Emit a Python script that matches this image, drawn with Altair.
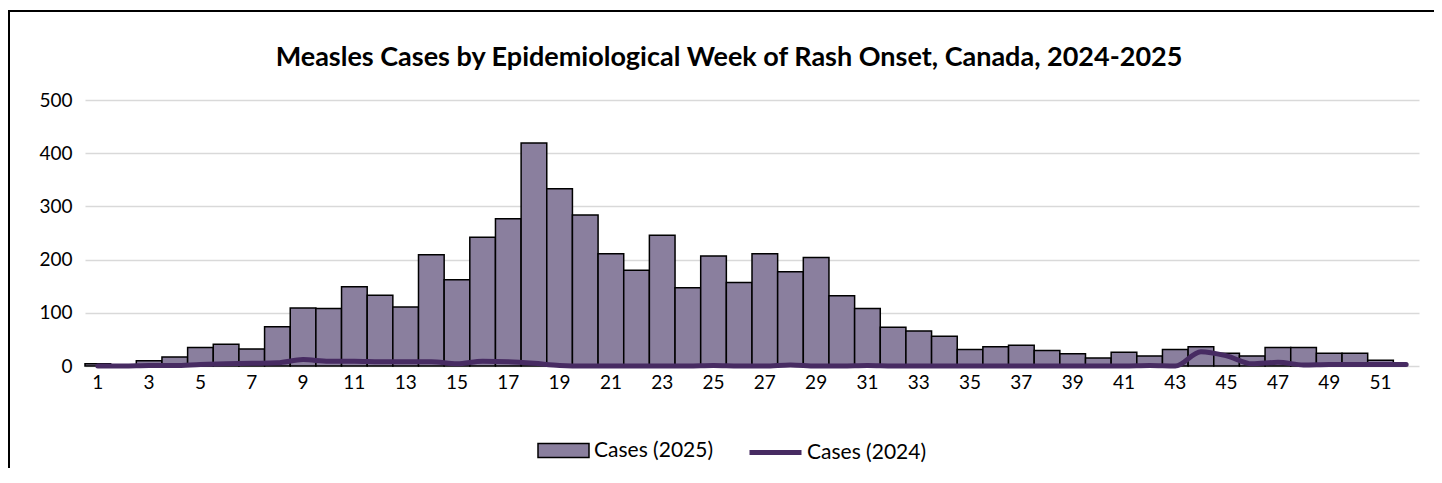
import altair as alt
import pandas as pd

# ---- data ----
weeks = list(range(1, 53))
cases_2025 = [4, 2, 10, 17, 35, 41, 32, 74, 109, 108, 149, 133, 111, 209, 162, 242,
              277, 419, 333, 284, 211, 180, 246, 147, 207, 157, 211, 177, 204, 132,
              108, 73, 66, 56, 31, 36, 39, 29, 23, 15, 26, 19, 31, 36, 24, 19, 35,
              35, 24, 24, 11, None]
cases_2024 = [0, 0, 1, 1, 3, 4, 5, 6, 12, 9, 9, 8, 8, 8, 4, 9, 8, 5, 1, 0, 0, 0,
              0, 0, 1, 0, 0, 2, 0, 0, 1, 0, 0, 0, 0, 0, 0, 0, 0, 0, 0, 1, 0, 27,
              19, 4, 7, 2, 3, 3, 3, 3]
tick_weeks = list(range(1, 52, 2))
y_ticks = [0, 100, 200, 300, 400, 500]
title_text = "Measles Cases by Epidemiological Week of Rash Onset, Canada, 2024-2025"
series_2025 = "Cases (2025)"
series_2024 = "Cases (2024)"

bars_df = pd.DataFrame({"week": weeks, "cases": cases_2025, "series": series_2025})
line_df = pd.DataFrame({"week": weeks, "cases": cases_2024, "series": series_2024})

FONT = "Lato"
BAR_COLOR = "#8a7f9e"
LINE_COLOR = "#472b62"

x_enc = alt.X(
    "week:O",
    scale=alt.Scale(domain=weeks, paddingInner=0, paddingOuter=0),
    axis=alt.Axis(values=tick_weeks, title=None, labelAngle=0, ticks=False,
                  domain=False, grid=False, labelFont=FONT, labelFontSize=19,
                  labelColor="black", labelPadding=7),
)
y_enc = alt.Y(
    "cases:Q",
    scale=alt.Scale(domain=[0, 500]),
    axis=alt.Axis(values=y_ticks, title=None, ticks=False, domain=False,
                  gridColor="#d9d9d9", gridWidth=1.5, labelFont=FONT,
                  labelFontSize=19, labelColor="black", labelPadding=13),
)

# outer chart frame: top and left edges (right/bottom fall outside the window)
frame_df = pd.DataFrame({"k": [0]})
frame_top = alt.Chart(frame_df).mark_rule(color="black", strokeWidth=2).encode(
    x=alt.value(-76), x2=alt.value(1500), y=alt.value(-89)
)
frame_left = alt.Chart(frame_df).mark_rule(color="black", strokeWidth=2).encode(
    x=alt.value(-76), y=alt.value(-90), y2=alt.value(600)
)

bars = alt.Chart(bars_df).mark_bar(stroke="black", strokeWidth=1.5).encode(
    x=x_enc,
    y=y_enc,
    fill=alt.Fill(
        "series:N",
        scale=alt.Scale(domain=[series_2025], range=[BAR_COLOR]),
        legend=alt.Legend(
            orient="none", legendX=452, legendY=324, title=None, padding=0,
            symbolType="M-1,-0.27H1V0.27H-1Z", symbolSize=2601,
            symbolStrokeColor="black", symbolStrokeWidth=1.5,
            symbolOpacity=1, labelFont=FONT, labelFontSize=21,
            labelColor="black", labelOffset=4,
        ),
    ),
)

line = alt.Chart(line_df).mark_line(
    strokeWidth=5, interpolate="monotone", strokeCap="round"
).encode(
    x=alt.X("week:O"),
    y=alt.Y("cases:Q"),
    stroke=alt.Stroke(
        "series:N",
        scale=alt.Scale(domain=[series_2024], range=[LINE_COLOR]),
        legend=alt.Legend(
            orient="none", legendX=662, legendY=324, title=None, padding=0,
            symbolType="stroke", symbolSize=2704, symbolStrokeWidth=5,
            labelFont=FONT, labelFontSize=21, labelColor="black",
            labelOffset=3,
        ),
    ),
)

chart = alt.layer(frame_top, frame_left, bars, line).properties(
    width=1334,
    height=266,
    autosize=alt.AutoSizeParams(type="none"),
    padding={"left": 77, "top": 92, "right": 15, "bottom": 102},
    title=alt.TitleParams(
        text=title_text, font=FONT, fontSize=27, fontWeight="bold",
        color="black", anchor="middle", dx=-23, offset=-63,
    ),
).configure(background="white").configure_view(stroke=None)

chart.save("out.html", embed_options={"renderer": "svg", "actions": False})
